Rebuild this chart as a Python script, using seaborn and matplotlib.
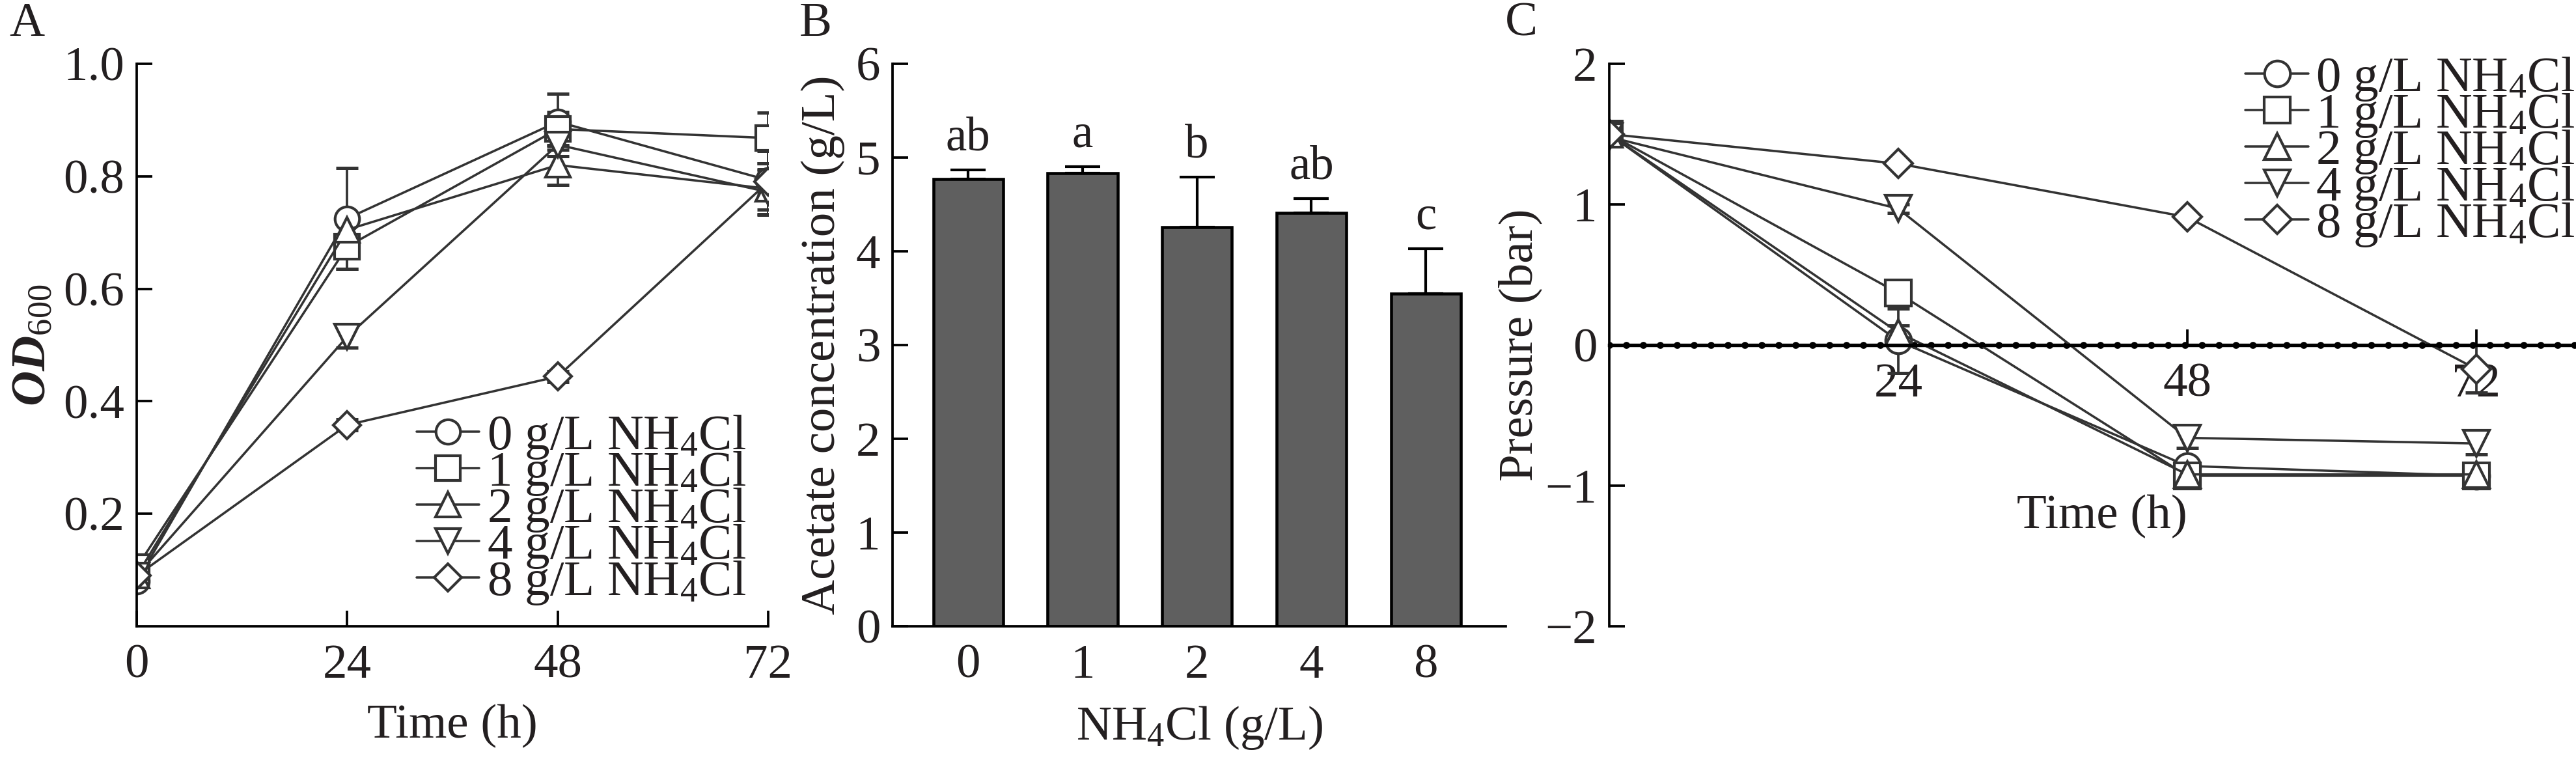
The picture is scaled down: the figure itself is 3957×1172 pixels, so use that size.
import numpy as np
import pandas as pd
import matplotlib
matplotlib.use("Agg")
import matplotlib.pyplot as plt
import seaborn as sns

# Panel A: OD600 over time
hours = [0, 24, 48, 72]
od_0 = [0.080, 0.725, 0.897, 0.793]
od_1 = [0.105, 0.675, 0.884, 0.868]
od_2 = [0.090, 0.705, 0.820, 0.778]
od_4 = [0.090, 0.515, 0.856, 0.772]
od_8 = [0.090, 0.358, 0.444, 0.790]
od_err_0 = [0.010, 0.090, 0.050, 0.052]
od_err_1 = [0.010, 0.040, 0.030, 0.045]
od_err_2 = [0.010, 0.020, 0.035, 0.045]
od_err_4 = [0.010, 0.020, 0.020, 0.040]
od_err_8 = [0.005, 0.010, 0.010, 0.020]

# Panel B: acetate concentration
nh4cl_levels = ["0", "1", "2", "4", "8"]
acetate = [4.77, 4.83, 4.26, 4.41, 3.55]
acetate_err = [0.10, 0.07, 0.53, 0.15, 0.48]
sig_letters = ["ab", "a", "b", "ab", "c"]

# Panel C: pressure over time
p_0 = [1.50, 0.03, -0.86, -0.93]
p_1 = [1.50, 0.37, -0.93, -0.93]
p_2 = [1.50, 0.09, -0.92, -0.92]
p_4 = [1.48, 0.97, -0.66, -0.70]
p_8 = [1.50, 1.29, 0.91, -0.17]
p_err_0 = [0.03, 0.23, 0.05, 0.03]
p_err_1 = [0.03, 0.065, 0.04, 0.04]
p_err_2 = [0.03, 0.05, 0.05, 0.03]
p_err_4 = [0.02, 0.03, 0.07, 0.08]
p_err_8 = [0.02, 0.02, 0.02, 0.17]

series_labels = ["0 g/L NH$_4$Cl", "1 g/L NH$_4$Cl", "2 g/L NH$_4$Cl",
                 "4 g/L NH$_4$Cl", "8 g/L NH$_4$Cl"]
series_markers = ["o", "s", "^", "v", "D"]

sns.set_style("ticks")
plt.rcParams['font.family'] = ['Liberation Serif', 'DejaVu Serif']
plt.rcParams['mathtext.fontset'] = 'custom'
plt.rcParams['mathtext.rm'] = 'Liberation Serif'
plt.rcParams['mathtext.it'] = 'Liberation Serif:italic'
plt.rcParams['mathtext.bf'] = 'Liberation Serif:bold'
plt.rcParams['mathtext.bfit'] = 'Liberation Serif:italic:bold'

ink = "#231f20"
line_c = "#333333"
fs = 18

fig = plt.figure(figsize=(3957 / 300, 1172 / 300), dpi=300)
bot, hgt = 0.1792, 0.7372
axA = fig.add_axes([0.0531, bot, 0.2451, hgt])
axB = fig.add_axes([0.3465, bot, 0.2381, hgt])
axC = fig.add_axes([0.6247, bot, 0.3753, hgt])


def style_axis(ax):
    for s in ["top", "right"]:
        ax.spines[s].set_visible(False)
    for s in ["left", "bottom"]:
        ax.spines[s].set_linewidth(0.9)
        ax.spines[s].set_color("black")
    ax.tick_params(direction="in", length=5.8, width=0.9, labelsize=fs,
                   colors="black", labelcolor=ink)
    ax.tick_params(axis="y", pad=4.5)
    ax.tick_params(axis="x", pad=6.5)


def draw_series(ax, ys, errs, ms):
    for y, e, m, lab in zip(ys, errs, series_markers, series_labels):
        ax.errorbar(hours, y, yerr=e, fmt="none", ecolor=line_c,
                    elinewidth=0.9, capsize=4, capthick=1.2, zorder=1.5)
        sns.lineplot(x=hours, y=y, ax=ax, color=line_c, marker=m,
                     markersize=ms if m != "D" else ms * 0.8,
                     markerfacecolor="white", markeredgecolor=line_c,
                     markeredgewidth=1.0, linewidth=0.85, label=lab,
                     zorder=2)


legend_kw = dict(frameon=False, fontsize=18.5, labelspacing=-0.22,
                 handlelength=1.25, handletextpad=0.15, borderpad=0,
                 labelcolor=ink)

# ---- A ----
draw_series(axA, [od_0, od_1, od_2, od_4, od_8],
            [od_err_0, od_err_1, od_err_2, od_err_4, od_err_8], 9)
style_axis(axA)
axA.set_xlim(0, 72)
axA.set_ylim(0, 1.0)
axA.set_xticks(hours)
axA.set_yticks([0.2, 0.4, 0.6, 0.8, 1.0])
axA.set_yticklabels(["0.2", "0.4", "0.6", "0.8", "1.0"])
axA.set_xlabel("Time (h)", fontsize=fs, color=ink, labelpad=6)
axA.set_ylabel(r"$\mathbfit{OD}_{600}$", fontsize=fs, color=ink, labelpad=3)
axA.legend(loc="lower right", bbox_to_anchor=(1.005, -0.01), **legend_kw)

# ---- B ----
df_b = pd.DataFrame({"NH4Cl": nh4cl_levels, "Acetate": acetate})
sns.barplot(data=df_b, x="NH4Cl", y="Acetate", color="#5f5f5f",
            saturation=1, edgecolor="black", linewidth=1.1, width=0.61,
            errorbar=None, ax=axB)
xpos = np.arange(len(nh4cl_levels))
axB.errorbar(xpos, acetate, yerr=[np.zeros(len(acetate)), acetate_err],
             fmt="none", ecolor="black", elinewidth=1.0, capsize=6.5,
             capthick=1.0, zorder=3)
for xp, v, e, t in zip(xpos, acetate, acetate_err, sig_letters):
    axB.text(xp, v + e + 0.1, t, ha="center", va="bottom", fontsize=17.5,
             color=ink)
style_axis(axB)
axB.set_xlim(-0.66, 4.70)
axB.set_ylim(0, 6)
axB.set_yticks(range(7))
axB.set_xlabel("NH$_4$Cl (g/L)", fontsize=fs, color=ink, labelpad=6)
axB.set_ylabel("Acetate concentration (g/L)", fontsize=fs, color=ink,
               labelpad=4)

# ---- C ----
draw_series(axC, [p_0, p_1, p_2, p_4, p_8],
            [p_err_0, p_err_1, p_err_2, p_err_4, p_err_8], 9.5)
style_axis(axC)
axC.spines["bottom"].set_position(("data", 0))
axC.spines["bottom"].set_linewidth(1.3)
axC.axhline(0, color="black", lw=2.6, ls=(0, (0.001, 2.4)),
            dash_capstyle="round", zorder=1.2)
axC.set_xlim(0, 80.3)
axC.set_ylim(-2, 2)
axC.set_xticks([24, 48, 72])
axC.set_yticks([-2, -1, 0, 1, 2])
axC.set_xlabel("Time (h)", fontsize=fs, color=ink)
axC.xaxis.set_label_coords(0.51, 0.195)
axC.xaxis.label.set_va("center")
axC.set_ylabel("Pressure (bar)", fontsize=fs, color=ink, labelpad=1)
axC.legend(loc="upper right", bbox_to_anchor=(1.025, 1.06), **legend_kw)

# panel letters
for xf, t in [(41, "A"), (1253, "B"), (2337, "C")]:
    fig.text(xf / 3957, 1 - 37 / 1172, t, fontsize=fs, color=ink,
             ha="center", va="center")

fig.savefig("out.png", dpi=300)
